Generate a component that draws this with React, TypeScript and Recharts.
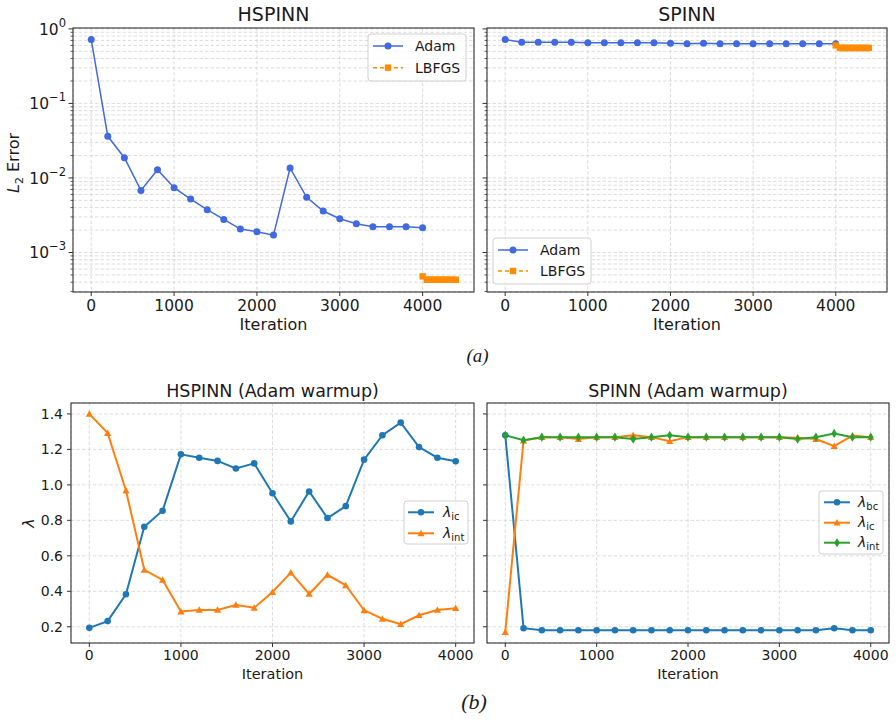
import { LineChart, Line, XAxis, YAxis, CartesianGrid } from 'recharts'

// iterations (Adam checkpoints every 200 iterations)
const ITERS = [0, 200, 400, 600, 800, 1000, 1200, 1400, 1600, 1800, 2000, 2200, 2400, 2600, 2800, 3000, 3200, 3400, 3600, 3800, 4000]
const LBFGS_ITERS = [4000, 4050, 4075, 4100, 4125, 4150, 4175, 4200, 4225, 4250, 4275, 4300, 4325, 4350, 4375, 4400]

// (a) L2 error
const HSPINN_ADAM = [0.72, 0.0362, 0.0187, 0.0068, 0.0129, 0.0074, 0.0052, 0.00375, 0.00278, 0.00206, 0.0019, 0.00171, 0.0136, 0.0055, 0.0036, 0.00284, 0.00243, 0.00222, 0.00222, 0.00222, 0.00215]
const HSPINN_LBFGS = [0.000478, 0.000431, 0.000431, 0.00043, 0.00043, 0.00043, 0.00043, 0.00043, 0.00043, 0.00043, 0.00043, 0.00043, 0.00043, 0.00043, 0.00043, 0.00043]
const SPINN_ADAM = [0.72, 0.66, 0.66, 0.66, 0.66, 0.65, 0.65, 0.65, 0.65, 0.65, 0.64, 0.63, 0.64, 0.63, 0.63, 0.63, 0.63, 0.63, 0.63, 0.63, 0.63]
const SPINN_LBFGS = [0.6, 0.555, 0.555, 0.555, 0.555, 0.555, 0.555, 0.555, 0.555, 0.555, 0.555, 0.555, 0.555, 0.555, 0.555, 0.555]

// (b) adaptive weights
const HS_IC = [0.194, 0.232, 0.383, 0.764, 0.854, 1.172, 1.153, 1.135, 1.092, 1.121, 0.953, 0.794, 0.963, 0.813, 0.88, 1.142, 1.28, 1.351, 1.213, 1.153, 1.133]
const HS_INT = [1.4, 1.292, 0.968, 0.521, 0.464, 0.286, 0.295, 0.295, 0.323, 0.307, 0.396, 0.505, 0.385, 0.493, 0.434, 0.293, 0.245, 0.215, 0.265, 0.295, 0.305]
const SP_BC = [1.28, 0.192, 0.18, 0.18, 0.18, 0.18, 0.18, 0.18, 0.18, 0.18, 0.18, 0.18, 0.18, 0.18, 0.18, 0.18, 0.18, 0.18, 0.192, 0.18, 0.18]
const SP_IC = [0.17, 1.25, 1.269, 1.269, 1.258, 1.269, 1.269, 1.28, 1.269, 1.246, 1.269, 1.269, 1.269, 1.269, 1.269, 1.269, 1.266, 1.258, 1.218, 1.278, 1.269]
const SP_INT = [1.28, 1.252, 1.269, 1.269, 1.269, 1.269, 1.269, 1.258, 1.269, 1.28, 1.269, 1.269, 1.269, 1.269, 1.269, 1.269, 1.258, 1.269, 1.29, 1.269, 1.269]

const X_TICKS = [0, 1000, 2000, 3000, 4000]
const LOG_TICKS = [0.0003, 0.0004, 0.0005, 0.0006, 0.0007, 0.0008, 0.0009,
  0.001, 0.002, 0.003, 0.004, 0.005, 0.006, 0.007, 0.008, 0.009,
  0.01, 0.02, 0.03, 0.04, 0.05, 0.06, 0.07, 0.08, 0.09,
  0.1, 0.2, 0.3, 0.4, 0.5, 0.6, 0.7, 0.8, 0.9, 1]
const LAMBDA_TICKS = [0.2, 0.4, 0.6, 0.8, 1.0, 1.2, 1.4]

const ROYAL = '#4169e1'
const DARK_ORANGE = '#ff8c00'
const T_BLUE = '#1f77b4'
const T_ORANGE = '#ff7f0e'
const T_GREEN = '#2ca02c'
const AXIS = '#333333'
const TEXT = '#1a1a1a'
const GRID = '#d4d4d4'

const pts = (xs: number[], ys: number[]) => xs.map((x, i) => ({ x, y: ys[i] }))

function Marker({ shape, cx, cy, color, s = 3 }: { shape: string; cx: number; cy: number; color: string; s?: number }) {
  if (shape === 'square') return <rect x={cx - s} y={cy - s} width={2 * s} height={2 * s} fill={color} />
  if (shape === 'tri') return <polygon points={`${cx},${cy - s} ${cx - s},${cy + s * 0.8} ${cx + s},${cy + s * 0.8}`} fill={color} />
  if (shape === 'thin') return <polygon points={`${cx},${cy - s * 1.2} ${cx + s * 0.75},${cy} ${cx},${cy + s * 1.2} ${cx - s * 0.75},${cy}`} fill={color} />
  return <circle cx={cx} cy={cy} r={s} fill={color} />
}

const dotOf = (shape: string, color: string, s: number) => (p: any) =>
  <Marker key={`d-${p.index}`} shape={shape} cx={p.cx} cy={p.cy} color={color} s={s} />

// log y-axis ticks: long ticks + 10^k label on decades, short ticks otherwise
function LogTick(props: any) {
  const { x, y, payload, showLabel } = props
  const lg = Math.log10(payload.value)
  const k = Math.round(lg)
  const major = Math.abs(lg - k) < 1e-6
  const len = major ? 4.5 : 2.5
  return (
    <g>
      <line x1={x - len} x2={x} y1={y} y2={y} stroke={AXIS} strokeWidth={major ? 1 : 0.8} />
      {major && showLabel && (
        <text x={x - 7} y={y + 6} textAnchor="end" fontSize={15.5} fill={TEXT}>
          10<tspan dy={-8} fontSize={11.5}>{k === 0 ? '0' : '\u2212' + -k}</tspan>
        </text>
      )}
    </g>
  )
}

function ErrorPanel({ left, width, yw, adam, lbfgs, showLabels }: any) {
  return (
    <div style={{ position: 'absolute', left, top: 0 }}>
      <LineChart width={width} height={350} margin={{ top: 28, right: 3, left: 0, bottom: 0 }}>
        <CartesianGrid stroke={GRID} strokeDasharray="3.5 2" strokeWidth={0.8} />
        <XAxis type="number" dataKey="x" domain={[-220, 4620]} ticks={X_TICKS} allowDataOverflow
          height={58} axisLine={false} tickSize={4} tickMargin={4}
          tickLine={{ stroke: AXIS }} tick={{ fontSize: 15.5, fill: TEXT }} />
        <YAxis type="number" scale="log" domain={[0.000295, 1.028]} allowDataOverflow ticks={LOG_TICKS}
          width={yw} axisLine={false} tickLine={false} tickSize={0} tickMargin={0} interval={0}
          tick={(p: any) => <LogTick {...p} showLabel={showLabels} />} />
        <Line data={adam} dataKey="y" stroke={ROYAL} strokeWidth={1.5} isAnimationActive={false}
          dot={dotOf('circle', ROYAL, 3.5)} activeDot={false} />
        <Line data={lbfgs} dataKey="y" stroke={DARK_ORANGE} strokeWidth={1.5} strokeDasharray="6 3"
          isAnimationActive={false} dot={dotOf('square', DARK_ORANGE, 3.2)} activeDot={false} />
      </LineChart>
    </div>
  )
}

function LambdaPanel({ left, width, yw, rows, series, showLabels }: any) {
  return (
    <div style={{ position: 'absolute', left, top: 360 }}>
      <LineChart width={width} height={361} data={rows} margin={{ top: 43, right: 3, left: 0, bottom: 0 }}>
        <CartesianGrid stroke={GRID} strokeDasharray="3.5 2" strokeWidth={0.8} />
        <XAxis type="number" dataKey="x" domain={[-200, 4200]} ticks={X_TICKS} allowDataOverflow
          height={78} axisLine={false} tickSize={4} tickMargin={3}
          tickLine={{ stroke: AXIS }} tick={{ fontSize: 14, fill: TEXT }} />
        <YAxis type="number" domain={[0.1085, 1.4615]} ticks={LAMBDA_TICKS} allowDataOverflow
          width={yw} axisLine={false} tickSize={4} tickMargin={4} tickLine={{ stroke: AXIS }}
          tickFormatter={(v: number) => (showLabels ? v.toFixed(1) : '')}
          tick={{ fontSize: 14, fill: TEXT }} />
        {series.map((s: any) => (
          <Line key={s.key} dataKey={s.key} stroke={s.color} strokeWidth={2} isAnimationActive={false}
            dot={dotOf(s.shape, s.color, s.s)} activeDot={false} />
        ))}
      </LineChart>
    </div>
  )
}

function LegendBox({ x, y, w, h, rows, lineX, textX, fontSize }: any) {
  return (
    <g>
      <rect x={x} y={y} width={w} height={h} rx={3} fill="rgba(255,255,255,0.8)" stroke="#d0d0d0" strokeWidth={1} />
      {rows.map((r: any, i: number) => (
        <g key={i}>
          <line x1={lineX[0]} x2={lineX[1]} y1={r.y} y2={r.y} stroke={r.color} strokeWidth={r.lw}
            strokeDasharray={r.dash} />
          <Marker shape={r.shape} cx={(lineX[0] + lineX[1]) / 2} cy={r.y} color={r.color} s={r.s} />
          <text x={textX} y={r.y + fontSize * 0.36} fontSize={fontSize} fill={TEXT}>{r.label}</text>
        </g>
      ))}
    </g>
  )
}

const lam = (sub: string) => (
  <>
    <tspan fontStyle="italic" fontSize={14}>λ</tspan>
    <tspan fontSize={10} dy={3}>{sub}</tspan>
  </>
)

export default function App() {
  const hsRows = ITERS.map((x, i) => ({ x, ic: HS_IC[i], int: HS_INT[i] }))
  const spRows = ITERS.map((x, i) => ({ x, bc: SP_BC[i], ic: SP_IC[i], int: SP_INT[i] }))
  const adamRow = (y: number) => ({ y, color: ROYAL, shape: 'circle', s: 3.5, lw: 1.5, label: 'Adam' })
  const lbfgsRow = (y: number) => ({ y, color: DARK_ORANGE, shape: 'square', s: 3.2, lw: 1.5, dash: '4 3', label: 'LBFGS' })
  return (
    <div style={{ position: 'absolute', left: 0, top: 0, width: 896, height: 721, background: '#fff', fontFamily: '"DejaVu Sans", sans-serif' }}>
      <ErrorPanel left={0} width={477} yw={73} adam={pts(ITERS, HSPINN_ADAM)} lbfgs={pts(LBFGS_ITERS, HSPINN_LBFGS)} showLabels />
      <ErrorPanel left={440} width={450} yw={47} adam={pts(ITERS, SPINN_ADAM)} lbfgs={pts(LBFGS_ITERS, SPINN_LBFGS)} showLabels={false} />
      <LambdaPanel left={0} width={477} yw={71} rows={hsRows} showLabels
        series={[{ key: 'ic', color: T_BLUE, shape: 'circle', s: 3.3 }, { key: 'int', color: T_ORANGE, shape: 'tri', s: 3.6 }]} />
      <LambdaPanel left={440} width={452} yw={47} rows={spRows} showLabels={false}
        series={[{ key: 'bc', color: T_BLUE, shape: 'circle', s: 3.3 }, { key: 'ic', color: T_ORANGE, shape: 'tri', s: 3.6 }, { key: 'int', color: T_GREEN, shape: 'thin', s: 3.8 }]} />

      <svg width={896} height={721} style={{ position: 'absolute', left: 0, top: 0, pointerEvents: 'none' }}>
        {/* axes frames */}
        <rect x={73} y={28} width={401} height={264} fill="none" stroke={AXIS} strokeWidth={1.1} />
        <rect x={487} y={28} width={400} height={264} fill="none" stroke={AXIS} strokeWidth={1.1} />
        <rect x={71} y={403} width={403} height={240} fill="none" stroke={AXIS} strokeWidth={1.1} />
        <rect x={487} y={403} width={402} height={240} fill="none" stroke={AXIS} strokeWidth={1.1} />

        {/* titles */}
        <text x={273.5} y={20.7} textAnchor="middle" fontSize={19} fill={TEXT}>HSPINN</text>
        <text x={687} y={20.7} textAnchor="middle" fontSize={19} fill={TEXT}>SPINN</text>
        <text x={272.5} y={397.3} textAnchor="middle" fontSize={17.5} fill={TEXT}>HSPINN (Adam warmup)</text>
        <text x={688} y={397.3} textAnchor="middle" fontSize={17.5} fill={TEXT}>SPINN (Adam warmup)</text>

        {/* axis labels */}
        <text x={273.5} y={330} textAnchor="middle" fontSize={16} fill={TEXT}>Iteration</text>
        <text x={687} y={330} textAnchor="middle" fontSize={16} fill={TEXT}>Iteration</text>
        <text x={272.5} y={678.5} textAnchor="middle" fontSize={14.5} fill={TEXT}>Iteration</text>
        <text x={688} y={678.5} textAnchor="middle" fontSize={14.5} fill={TEXT}>Iteration</text>
        <text transform="translate(19,163) rotate(-90)" textAnchor="middle" fontSize={16} fill={TEXT}>
          <tspan fontStyle="italic">L</tspan><tspan fontSize={11} dy={4}>2</tspan><tspan dy={-4}> Error</tspan>
        </text>
        <text transform="translate(34,523) rotate(-90)" textAnchor="middle" fontSize={16} fontStyle="italic" fill={TEXT}>λ</text>

        {/* legends */}
        <LegendBox x={368} y={34} w={98} h={47} lineX={[373, 403]} textX={415} fontSize={14}
          rows={[adamRow(46), lbfgsRow(67.7)]} />
        <LegendBox x={493} y={238} w={98} h={46} lineX={[498, 528]} textX={540} fontSize={14}
          rows={[adamRow(250), lbfgsRow(271)]} />
        <LegendBox x={404} y={501} w={64} h={43} lineX={[408, 434]} textX={443} fontSize={12}
          rows={[
            { y: 512.3, color: T_BLUE, shape: 'circle', s: 3.3, lw: 2, label: lam('ic') },
            { y: 533.3, color: T_ORANGE, shape: 'tri', s: 3.6, lw: 2, label: lam('int') },
          ]} />
        <LegendBox x={819} y={491} w={64} h={63} lineX={[824, 850]} textX={858} fontSize={12}
          rows={[
            { y: 502.3, color: T_BLUE, shape: 'circle', s: 3.3, lw: 2, label: lam('bc') },
            { y: 522.7, color: T_ORANGE, shape: 'tri', s: 3.6, lw: 2, label: lam('ic') },
            { y: 542.7, color: T_GREEN, shape: 'thin', s: 3.8, lw: 2, label: lam('int') },
          ]} />

        {/* sub-figure tags */}
        <text x={477.5} y={361.5} textAnchor="middle" fontSize={19} fontStyle="italic" fontFamily='"Liberation Serif", serif' fill={TEXT}>(a)</text>
        <text x={474} y={709} textAnchor="middle" fontSize={22} fontStyle="italic" fontFamily='"Liberation Serif", serif' fill={TEXT}>(b)</text>
      </svg>
    </div>
  )
}
